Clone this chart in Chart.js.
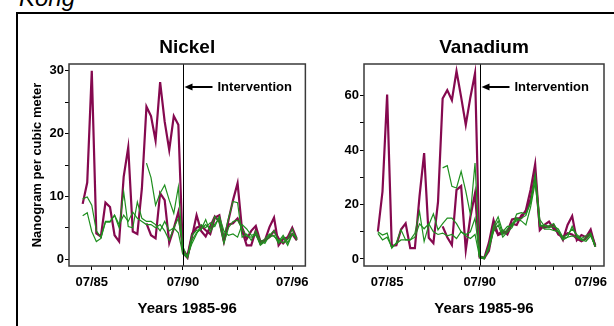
<!DOCTYPE html>
<html>
<head>
<meta charset="utf-8">
<script src="https://cdn.jsdelivr.net/npm/chart.js@4.4.1/dist/chart.umd.min.js"></script>
<style>
  html, body { margin: 0; padding: 0; background: #fff; }
  body { width: 614px; height: 326px; position: relative; overflow: hidden; font-family: "Liberation Sans", Arial, sans-serif; }
  #kong { position: absolute; left: 19px; top: -14px; font-size: 24px; line-height: 24px; font-style: italic; color: #000; }
  #frame { position: absolute; left: 16px; top: 12px; width: 700px; height: 400px; border-left: 2px solid #000; border-top: 2px solid #000; }
  .panel { position: absolute; top: 15px; width: 296px; height: 311px; }
  #niBox { left: 18px; }
  #vaBox { left: 318px; }
</style>
</head>
<body>
<div id="kong">Kong</div>
<div id="frame"></div>
<div class="panel" id="niBox"><canvas id="nickelChart"></canvas></div>
<div class="panel" id="vaBox"><canvas id="vanadiumChart"></canvas></div>
<script>
// quarterly samples, Jan 1985 - Oct 1996
const quarters = [
  '01/85','04/85','07/85','10/85','01/86','04/86','07/86','10/86',
  '01/87','04/87','07/87','10/87','01/88','04/88','07/88','10/88',
  '01/89','04/89','07/89','10/89','01/90','04/90','07/90','10/90',
  '01/91','04/91','07/91','10/91','01/92','04/92','07/92','10/92',
  '01/93','04/93','07/93','10/93','01/94','04/94','07/94','10/94',
  '01/95','04/95','07/95','10/95','01/96','04/96','07/96','10/96'
];
const xTicks = ['07/85','07/86','07/87','07/88','07/89','07/90','07/91','07/92','07/93','07/94','07/95','07/96'];
const xTickLabels = ['07/85','07/90','07/96'];
const interventionDate = '07/90';

// ===== NICKEL (ng/m3) =====
const nickelTicks = [0, 5, 10, 15, 20, 25, 30];
const nickelTickLabels = [0, 10, 20, 30];
const nickelSiteA = [8.8, 12.2, 30.0, 4.1, 3.6, 9.0, 8.3, 3.8, 2.8, 13.1, 17.8, 4.4, 4.0, 11.3, 24.3, 22.8, 18.9, 28.2, 21.9, 17.4, 22.8, 21.4, 1.0, 0.2,
  3.6, 7.0, 4.5, 3.6, 5.2, 6.8, 6.0, 2.8, 6.2, 9.4, 12.1, 4.5, 2.2, 2.2, 4.6, 2.5, 3.0, 5.1, 6.6, 2.2, 3.2, 3.5, 5.0, 3.2];
const nickelSiteB = [null, null, null, null, null, null, null, null, null, null, null, null, null, null, 5.7, 3.8, 3.3, 10.5, 9.4, 2.6, 4.9, 7.5, 1.5, 0.5,
  4.0, 5.0, 5.3, 4.6, 4.0, 6.6, 7.0, 3.0, 5.5, 5.7, 6.5, 5.0, 3.2, 4.5, 5.3, 2.8, 3.0, 3.5, 4.5, 3.3, 2.5, 3.3, 4.0, 3.0];
const nickelSiteC = [9.6, 9.9, 8.6, 4.5, 3.5, 6.0, 6.0, 7.0, 5.0, 10.7, 5.2, 5.0, 9.1, 6.5, 6.0, 6.0, 5.5, 4.5, 6.0, 4.5, 5.0, 4.2, 0.8, 0.3,
  3.8, 4.6, 4.7, 6.3, 4.3, 5.6, 6.5, 3.5, 6.5, 9.2, 9.0, 3.5, 4.0, 3.0, 4.5, 3.0, 2.5, 3.8, 4.5, 2.8, 3.8, 2.6, 4.0, 3.5];
const nickelSiteD = [6.9, 7.4, 4.4, 2.8, 3.3, 5.9, 5.9, 7.0, 5.5, 7.0, 6.0, 7.5, 6.5, 6.0, 5.5, 5.5, 5.0, 5.5, 4.5, 3.0, 5.0, 6.5, 2.0, 0.2,
  3.0, 4.2, 4.8, 5.5, 4.8, 6.8, 5.8, 2.5, 5.0, 6.0, 6.2, 4.8, 3.6, 3.5, 3.8, 2.5, 3.2, 4.0, 3.6, 3.0, 2.6, 3.2, 4.8, 3.0];
const nickelSiteE = [null, null, null, null, null, null, null, null, null, null, null, null, null, null, 15.3, 13.0, 8.6, 10.5, 11.8, 9.4, 7.3, 11.5, 1.0, 0.5,
  2.5, 4.0, 5.5, 5.0, 5.8, 5.2, 6.8, 4.5, 3.8, 4.0, 3.5, 5.5, 4.8, 3.8, 4.0, 2.2, 2.8, 3.5, 3.8, 2.5, 3.5, 2.2, 4.0, 3.3];

// ===== VANADIUM (ng/m3) =====
const vanadiumTicks = [0, 10, 20, 30, 40, 50, 60];
const vanadiumTickLabels = [0, 20, 40, 60];
const vanadiumSiteA = [10.0, 24.8, 60.5, 4.8, 5.0, 10.8, 13.1, 4.0, 4.0, 23.0, 38.9, 7.8, 5.8, 21.0, 59.0, 62.1, 58.4, 69.1, 59.5, 49.3, 59.5, 68.3, 0.5, 0.3,
  6.0, 14.3, 8.8, 9.5, 10.0, 14.5, 14.9, 15.0, 18.0, 25.4, 34.9, 10.6, 12.5, 13.7, 11.0, 10.0, 7.0, 12.5, 15.8, 6.9, 8.8, 8.0, 10.8, 4.5];
const vanadiumSiteB = [null, null, null, null, null, null, null, null, null, null, null, null, null, null, 12.0, 8.0, 5.1, 25.4, 26.8, 3.3, 15.5, 24.1, 1.0, 0.3,
  3.0, 12.0, 9.0, 10.5, 9.0, 13.0, 12.5, 16.0, 17.5, 22.0, 31.0, 12.0, 11.5, 12.0, 12.5, 9.0, 8.0, 9.5, 9.0, 7.5, 6.5, 7.5, 9.5, 5.0];
const vanadiumSiteC = [10.0, 8.8, 9.5, 3.9, 6.0, 10.7, 7.0, 7.0, 9.4, 17.4, 6.4, 12.5, 16.6, 10.7, 13.0, 15.0, 15.0, 13.0, 10.0, 9.0, 10.0, 15.0, 0.5, 0.0,
  5.0, 12.0, 15.5, 10.0, 12.0, 12.0, 16.5, 17.0, 16.5, 20.5, 31.0, 14.5, 12.0, 11.5, 12.0, 11.0, 8.0, 9.0, 11.0, 9.0, 7.5, 8.5, 9.5, 5.0];
const vanadiumSiteD = [9.4, 7.0, 8.0, 4.4, 5.7, 7.0, 7.0, 7.0, 8.0, 12.9, 11.1, 12.9, 10.0, 9.0, 9.5, 8.5, 9.0, 7.5, 10.0, 8.5, 7.5, 9.0, 0.5, 0.2,
  4.0, 10.0, 12.5, 8.0, 10.0, 11.5, 15.0, 14.0, 12.5, 19.0, 28.0, 13.0, 11.0, 11.0, 10.5, 10.0, 7.0, 8.0, 8.5, 8.0, 7.0, 6.5, 8.5, 4.5];
const vanadiumSiteE = [null, null, null, null, null, null, null, null, null, null, null, null, null, null, 33.5, 34.3, 26.7, 26.1, 32.2, 24.9, 16.3, 35.3, 1.0, 0.5,
  3.5, 11.0, 14.0, 9.0, 11.0, 13.0, 14.0, 15.0, 16.0, 21.0, 30.0, 12.0, 12.5, 12.0, 13.0, 10.0, 7.5, 8.0, 12.0, 8.5, 7.0, 7.5, 9.0, 4.5];

const PURPLE = '#85094f';
const GREEN = '#1f8f1f';
const FONT = '"Liberation Sans", Arial, sans-serif';
Chart.defaults.font.family = FONT;
Chart.defaults.color = '#000';

function toYear(mmyy) {
  const [m, y] = mmyy.split('/').map(Number);
  return 1900 + y + (m - 1) / 12;
}

function series(values, color, width) {
  return {
    data: quarters.map((q, i) => ({ x: toYear(q), y: values[i] })),
    borderColor: color,
    borderWidth: width,
    pointRadius: 0,
    fill: false,
    tension: 0
  };
}

// ===== plot box + intervention marker =====
const interventionPlugin = {
  id: 'intervention',
  afterDatasetsDraw(chart) {
    const { ctx, chartArea: a, scales: { x } } = chart;
    const px = Math.round(x.getPixelForValue(toYear(interventionDate))) + 0.5;
    const ay = a.top + 23;
    ctx.save();
    ctx.strokeStyle = '#000';
    ctx.lineWidth = 1;
    ctx.beginPath(); ctx.moveTo(px, a.top); ctx.lineTo(px, a.bottom); ctx.stroke();
    ctx.lineWidth = 2;
    ctx.beginPath(); ctx.moveTo(px + 8, ay); ctx.lineTo(px + 29, ay); ctx.stroke();
    ctx.fillStyle = '#000';
    ctx.beginPath(); ctx.moveTo(px + 1, ay); ctx.lineTo(px + 9, ay - 3.5); ctx.lineTo(px + 9, ay + 3.5); ctx.closePath(); ctx.fill();
    ctx.font = 'bold 13px ' + FONT;
    ctx.textBaseline = 'middle';
    ctx.textAlign = 'left';
    ctx.fillText('Intervention', px + 34, ay);
    ctx.strokeStyle = '#3a3a3a';
    ctx.lineWidth = 1.5;
    ctx.strokeRect(a.left, a.top, a.right - a.left, a.bottom - a.top);
    ctx.restore();
  }
};

function makeChart(id, title, sites, yMin, yMax, yTicks, yTickLabels, yTitle, yWidth, padRight) {
  new Chart(document.getElementById(id), {
    type: 'line',
    data: {
      datasets: [
        series(sites[2], GREEN, 1.2),
        series(sites[3], GREEN, 1.2),
        series(sites[4], GREEN, 1.2),
        series(sites[0], PURPLE, 2.2),
        series(sites[1], PURPLE, 2.2)
      ]
    },
    options: {
      responsive: true,
      maintainAspectRatio: false,
      animation: false,
      layout: { padding: { left: 0, right: padRight, top: 0, bottom: 0 } },
      plugins: {
        legend: { display: false },
        tooltip: { enabled: false },
        title: {
          display: true, text: title, fullSize: false, color: '#000',
          font: { size: 19, weight: 'bold' },
          padding: { top: 21.6, bottom: 4.6 }
        }
      },
      scales: {
        x: {
          type: 'linear', min: 1984.25, max: 1997.22,
          afterBuildTicks: s => { s.ticks = xTicks.map(t => ({ value: toYear(t) })); },
          afterFit: s => { s.height = 60; },
          ticks: {
            autoSkip: false, maxRotation: 0, padding: 5, color: '#000',
            font: { size: 13, weight: 'bold' },
            callback: (v, i) => xTickLabels.includes(xTicks[i]) ? xTicks[i] : ''
          },
          grid: { drawOnChartArea: false, drawTicks: true, tickLength: 4, color: '#000' },
          border: { display: false },
          title: {
            display: true, text: 'Years 1985-96', color: '#000',
            font: { size: 15, weight: 'bold' }, padding: { top: 0, bottom: 8 }
          }
        },
        y: {
          type: 'linear', min: yMin, max: yMax,
          afterBuildTicks: s => { s.ticks = yTicks.map(v => ({ value: v })); },
          afterFit: s => { s.width = yWidth; },
          ticks: {
            padding: 1, color: '#000', font: { size: 13, weight: 'bold' },
            callback: v => yTickLabels.includes(v) ? String(v) : ''
          },
          grid: { drawOnChartArea: false, drawTicks: true, tickLength: 4, color: '#000' },
          border: { display: false },
          title: {
            display: !!yTitle, text: yTitle || '', color: '#000',
            font: { size: 13, weight: 'bold' }, padding: { top: 12, bottom: 0 }
          }
        }
      }
    },
    plugins: [interventionPlugin]
  });
}

makeChart('nickelChart', 'Nickel',
  [nickelSiteA, nickelSiteB, nickelSiteC, nickelSiteD, nickelSiteE],
  -1.1, 31.1, nickelTicks, nickelTickLabels, 'Nanogram per cubic meter', 51, 6);
makeChart('vanadiumChart', 'Vanadium',
  [vanadiumSiteA, vanadiumSiteB, vanadiumSiteC, vanadiumSiteD, vanadiumSiteE],
  -2.6, 71.7, vanadiumTicks, vanadiumTickLabels, '', 46, 10);
</script>
</body>
</html>
